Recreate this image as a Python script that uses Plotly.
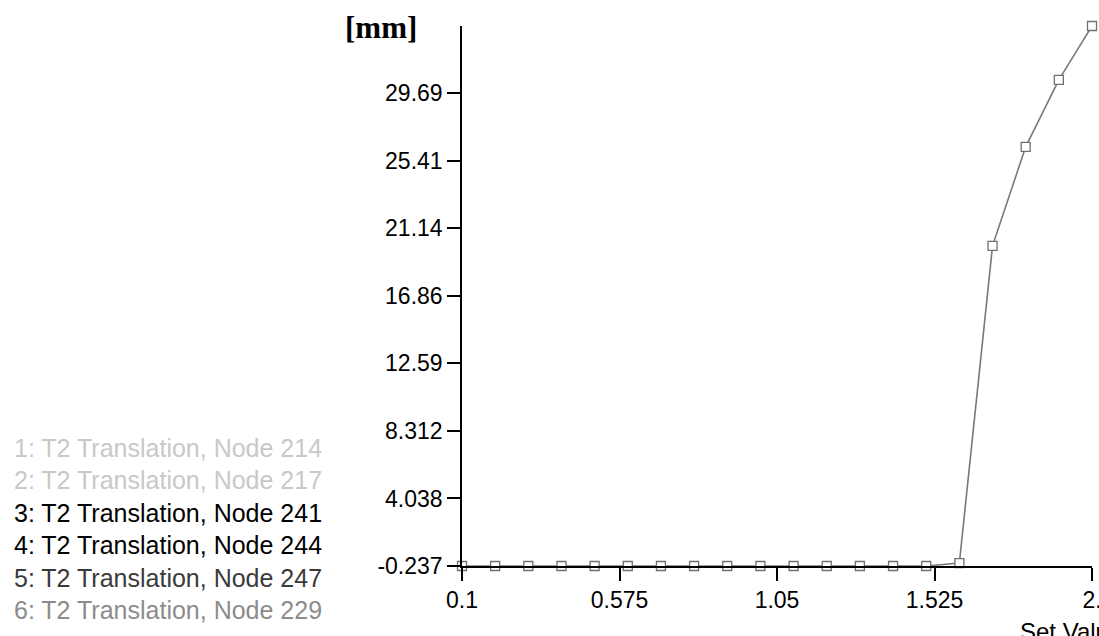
import plotly.graph_objects as go

# ---- data ----
set_values = [0.1, 0.2, 0.3, 0.4, 0.5, 0.6, 0.7, 0.8, 0.9, 1.0,
              1.1, 1.2, 1.3, 1.4, 1.5, 1.6, 1.7, 1.8, 1.9, 2.0]
node229_t2 = [-0.237, -0.237, -0.237, -0.237, -0.237, -0.237, -0.237, -0.237, -0.237, -0.237,
              -0.237, -0.237, -0.237, -0.237, -0.237, -0.05, 20.03, 26.3, 30.54, 33.95]

x_tickvals = [0.1, 0.575, 1.05, 1.525, 2.0]
x_ticktext = ["0.1", "0.575", "1.05", "1.525", "2."]
y_tickvals = [-0.237, 4.038, 8.312, 12.59, 16.86, 21.14, 25.41, 29.69]
y_ticktext = ["-0.237", "4.038", "8.312", "12.59", "16.86", "21.14", "25.41", "29.69"]

legend_labels = ["1: T2 Translation, Node 214", "2: T2 Translation, Node 217",
                 "3: T2 Translation, Node 241", "4: T2 Translation, Node 244",
                 "5: T2 Translation, Node 247", "6: T2 Translation, Node 229"]
legend_colors = ["#c8c8c8", "#c8c8c8", "#000000", "#000000", "#3a3a3a", "#8c8c8c"]

# ---- layout geometry (pixels, body margin removed) ----
W, H = 1099, 636
SX0, SX1, SY0, SY1 = 462, 1092, 26, 566
L, R, T, B = SX0, W - SX1, SY0, H - SY1
pw, ph = SX1 - SX0, SY1 - SY0

def px_x(sx):
    return (sx - SX0) / pw

def px_y(sy):
    return (SY1 - sy) / ph

FONT = "Liberation Sans, Arial, sans-serif"

fig = go.Figure()
fig.add_trace(go.Scatter(
    x=set_values, y=node229_t2, mode="lines+markers",
    line=dict(color="#787878", width=1.6),
    marker=dict(symbol="square", size=9, color="white",
                line=dict(color="#707070", width=1.3)),
    cliponaxis=False, showlegend=False, hoverinfo="x+y"))

annotations = []
for i, (lab, col) in enumerate(zip(legend_labels, legend_colors)):
    annotations.append(dict(
        text=lab, xref="paper", yref="paper",
        x=px_x(12), y=px_y(448 + 32.4 * i), xanchor="left", yanchor="middle",
        showarrow=False, font=dict(family=FONT, size=25, color=col)))

annotations.append(dict(
    text="<b>[mm]</b>", xref="paper", yref="paper",
    x=px_x(381), y=px_y(28), xanchor="center", yanchor="middle",
    showarrow=False, font=dict(family="Liberation Serif, Times New Roman, serif", size=31, color="#000")))

annotations.append(dict(
    text="Set Value", xref="paper", yref="paper",
    x=px_x(1018), y=px_y(616), xanchor="left", yanchor="top",
    showarrow=False, font=dict(family=FONT, size=24, color="#000")))

fig.update_layout(
    width=W, height=H,
    margin=dict(l=L, r=R, t=T, b=B, pad=0),
    paper_bgcolor="white", plot_bgcolor="white",
    font=dict(family=FONT, size=23, color="#000"),
    annotations=annotations,
    xaxis=dict(range=[0.1, 2.0], tickvals=x_tickvals, ticktext=x_ticktext,
               showgrid=False, zeroline=False, showline=True, linecolor="#000", linewidth=1.5,
               ticks="outside", ticklen=13, tickwidth=1.5, tickcolor="#000",
               ticklabeloverflow="allow", automargin=False,
               tickfont=dict(family=FONT, size=23, color="#000")),
    yaxis=dict(range=[-0.237, 33.95], tickvals=y_tickvals, ticktext=y_ticktext,
               showgrid=False, zeroline=False, showline=True, linecolor="#000", linewidth=1.5,
               ticks="outside", ticklen=13, tickwidth=1.5, tickcolor="#000",
               ticklabelstandoff=0, automargin=False,
               tickfont=dict(family=FONT, size=23, color="#000")),
)

fig.write_html(
    "out.html",
    config={"responsive": False, "displayModeBar": False},
    post_script="document.body.style.margin='0';document.body.style.overflow='hidden';",
)
